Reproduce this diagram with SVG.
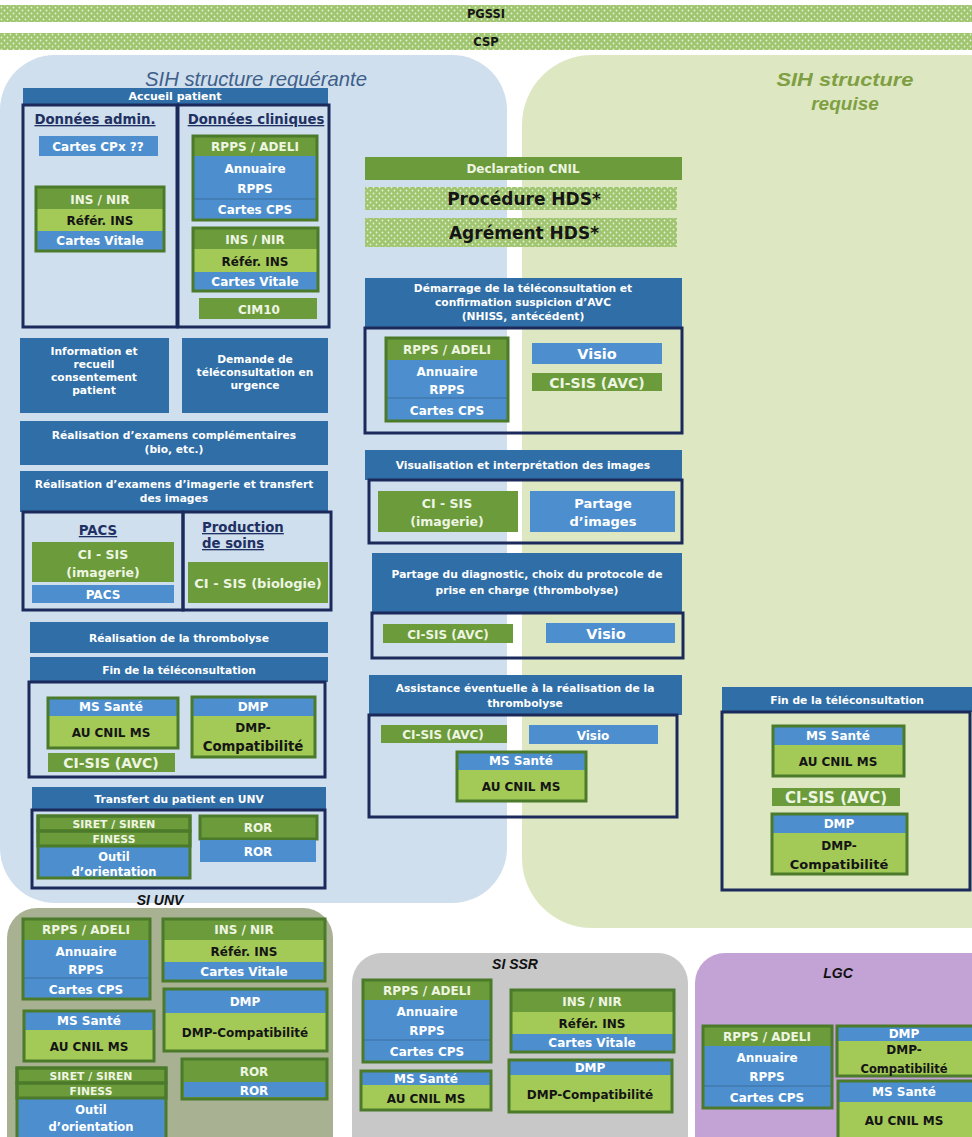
<svg xmlns="http://www.w3.org/2000/svg" width="972" height="1137" viewBox="0 0 972 1137">
<defs>
<pattern id="dots" width="6" height="6" patternUnits="userSpaceOnUse">
<rect width="6" height="6" fill="#9fc56e"/>
<circle cx="1.5" cy="1.5" r="0.9" fill="#e8f1da"/>
<circle cx="4.5" cy="4.5" r="0.9" fill="#e8f1da"/>
</pattern>
</defs>
<style>
text{font-family:"DejaVu Sans","Liberation Sans",sans-serif;font-weight:bold;text-anchor:middle}
.hdr{fill:#2f6ea6}
.lb{fill:#4d8fce}
.g{fill:#6b9b3b}
.lg{fill:#a3c957}
.grp{fill:none;stroke:#4b7a2b;stroke-width:3}
.nav{fill:none;stroke:#1b2a5a;stroke-width:3}
.sep{stroke:#3b6f9f;stroke-width:1}
.w{fill:#ffffff;font-size:12px}
.wg{fill:#eef5e2;font-size:12px}
.k{fill:#151515;font-size:12px}
.h{fill:#ffffff;font-size:10.7px}
.n{fill:#1f3062;font-size:13.3px;text-decoration:underline}
.ttl{font-family:"Liberation Sans",Arial,sans-serif;font-style:italic;font-weight:bold;fill:#111;font-size:14px}
</style>
<rect width="972" height="1137" fill="#ffffff"/>

<g id="bands">
<rect x="0" y="5" width="972" height="17" fill="url(#dots)"/>
<text x="486" y="18" class="k" style="font-size:11.5px">PGSSI</text>
<rect x="0" y="33" width="972" height="17" fill="url(#dots)"/>
<text x="486" y="46" class="k" style="font-size:11.5px">CSP</text>
</g>
<g id="region-requerante">
<rect x="0" y="55" width="507" height="848" rx="55" fill="#cfdfee"/>
<text x="256" y="86" style="font-family:'Liberation Sans',Arial,sans-serif;font-style:italic;font-weight:normal;font-size:21px;fill:#3f5f8a" textLength="222" lengthAdjust="spacingAndGlyphs">SIH structure  requérante</text>
</g>
<g id="region-requise">
<rect x="522" y="55" width="520" height="873" rx="70" fill="#dde8c3"/>
<text x="845" y="86" style="font-family:'Liberation Sans',Arial,sans-serif;font-style:italic;font-weight:bold;font-size:19px;fill:#7f9f42" textLength="137" lengthAdjust="spacingAndGlyphs">SIH structure</text>
<text x="845" y="110" style="font-family:'Liberation Sans',Arial,sans-serif;font-style:italic;font-weight:bold;font-size:19px;fill:#7f9f42">requise</text>
</g>
<g id="region-unv">
<rect x="7" y="908" width="326" height="260" rx="30" fill="#a9b193"/>
<text x="160" y="905" class="ttl">SI UNV</text>
</g>
<g id="region-ssr">
<rect x="352" y="953" width="336" height="220" rx="30" fill="#c8c8c8"/>
<text x="515" y="969" class="ttl">SI SSR</text>
</g>
<g id="region-lgc">
<rect x="695" y="953" width="320" height="220" rx="30" fill="#c3a3d5"/>
<text x="838" y="978" class="ttl">LGC</text>
</g>

<g id="connectors"></g>

<!-- LEFT COLUMN -->
<g id="accueil">
<rect x="23" y="88" width="305" height="16" class="hdr"/>
<text x="175" y="100" class="h" style="font-size:11px">Accueil patient</text>
</g>
<g id="donnees-admin">
<rect x="23" y="105" width="154" height="222" class="nav"/>
<text x="95" y="124" class="n">Données admin.</text>
<rect x="39" y="136" width="119" height="20" class="lb"/>
<text x="98" y="151" class="w">Cartes CPx ??</text>
<rect x="36" y="188" width="128" height="21" class="g"/>
<rect x="36" y="209" width="128" height="22" class="lg"/>
<rect x="36" y="231" width="128" height="19" class="lb"/>
<rect x="36" y="187" width="128" height="64" class="grp"/>
<text x="100" y="204" class="wg">INS / NIR</text>
<text x="100" y="225" class="k">Référ. INS</text>
<text x="100" y="245" class="w">Cartes Vitale</text>
</g>
<g id="donnees-cliniques">
<rect x="178" y="105" width="151" height="222" class="nav"/>
<text x="256" y="124" class="n">Données cliniques</text>
<rect x="193" y="136" width="124" height="20" class="g"/>
<rect x="193" y="156" width="124" height="43" class="lb"/>
<rect x="193" y="199" width="124" height="21" class="lb"/>
<line x1="193" y1="199" x2="317" y2="199" class="sep"/>
<rect x="193" y="136" width="124" height="84" class="grp"/>
<text x="255" y="151" class="wg">RPPS / ADELI</text>
<text x="255" y="173" class="w">Annuaire</text>
<text x="255" y="193" class="w">RPPS</text>
<text x="255" y="214" class="w">Cartes CPS</text>
<rect x="193" y="228" width="125" height="21" class="g"/>
<rect x="193" y="249" width="125" height="23" class="lg"/>
<rect x="193" y="272" width="125" height="19" class="lb"/>
<rect x="193" y="228" width="125" height="63" class="grp"/>
<text x="255" y="244" class="wg">INS / NIR</text>
<text x="255" y="266" class="k">Référ. INS</text>
<text x="255" y="286" class="w">Cartes Vitale</text>
<rect x="199" y="298" width="118" height="21" class="g"/>
<text x="259" y="314" class="wg">CIM10</text>
</g>
<g id="information">
<rect x="20" y="338" width="149" height="75" class="hdr"/>
<text x="94" y="355" class="h">Information et</text>
<text x="94" y="368" class="h">recueil</text>
<text x="94" y="381" class="h">consentement</text>
<text x="94" y="394" class="h">patient</text>
</g>
<g id="demande">
<rect x="182" y="338" width="146" height="75" class="hdr"/>
<text x="255" y="363" class="h">Demande de</text>
<text x="255" y="376" class="h">téléconsultation en</text>
<text x="255" y="389" class="h">urgence</text>
</g>
<g id="examens-comp">
<rect x="20" y="421" width="308" height="44" class="hdr"/>
<text x="174" y="439" class="h">Réalisation d’examens complémentaires</text>
<text x="174" y="453" class="h">(bio, etc.)</text>
</g>
<g id="examens-imagerie">
<rect x="20" y="471" width="308" height="41" class="hdr"/>
<text x="174" y="488" class="h">Réalisation d’examens d’imagerie et transfert</text>
<text x="174" y="502" class="h">des images</text>
</g>
<g id="pacs">
<rect x="23" y="512" width="160" height="98" class="nav"/>
<text x="98" y="535" class="n">PACS</text>
<rect x="32" y="542" width="142" height="40" class="g"/>
<text x="103" y="559" class="wg" style="font-size:12.5px">CI - SIS</text>
<text x="103" y="577" class="wg" style="font-size:12.5px">(imagerie)</text>
<rect x="32" y="585" width="142" height="18" class="lb"/>
<text x="103" y="599" class="w">PACS</text>
</g>
<g id="production-soins">
<rect x="183" y="512" width="148" height="98" class="nav"/>
<text x="202" y="532" class="n" style="text-anchor:start">Production</text>
<text x="202" y="548" class="n" style="text-anchor:start">de soins</text>
<rect x="188" y="562" width="140" height="41" class="g"/>
<text x="258" y="588" class="wg" style="font-size:13px">CI - SIS (biologie)</text>
</g>
<g id="thrombolyse">
<rect x="30" y="622" width="298" height="31" class="hdr"/>
<text x="179" y="642" class="h">Réalisation  de la thrombolyse</text>
</g>
<g id="fin-teleconsult-left">
<rect x="30" y="657" width="298" height="25" class="hdr"/>
<text x="179" y="674" class="h">Fin de la téléconsultation</text>
<rect x="29" y="682" width="296" height="95" class="nav"/>
<rect x="48" y="698" width="130" height="18" class="lb"/>
<rect x="48" y="716" width="130" height="32" class="lg"/>
<rect x="48" y="698" width="130" height="50" class="grp"/>
<text x="111" y="711" class="w">MS Santé</text>
<text x="111" y="737" class="k">AU CNIL MS</text>
<rect x="48" y="753" width="127" height="19" class="g"/>
<text x="111" y="768" class="wg" style="font-size:14px">CI-SIS (AVC)</text>
<rect x="192" y="697" width="123" height="19" class="lb"/>
<rect x="192" y="716" width="123" height="41" class="lg"/>
<rect x="192" y="697" width="123" height="60" class="grp"/>
<text x="253" y="711" class="w">DMP</text>
<text x="253" y="732" class="k">DMP-</text>
<text x="253" y="751" class="k" style="font-size:13.3px">Compatibilité</text>
</g>
<g id="transfert-unv">
<rect x="32" y="787" width="294" height="23" class="hdr"/>
<text x="179" y="803" class="h">Transfert du patient en UNV</text>
<rect x="32" y="810" width="293" height="78" class="nav"/>
<rect x="38" y="816" width="152" height="15" class="g"/>
<rect x="38" y="831" width="152" height="15" class="g"/>
<rect x="38" y="846" width="152" height="32" class="lb"/>
<rect x="38" y="816" width="152" height="15" class="grp"/>
<rect x="38" y="831" width="152" height="15" class="grp"/>
<rect x="38" y="816" width="152" height="62" class="grp"/>
<text x="114" y="828" class="wg" style="font-size:10.8px">SIRET / SIREN</text>
<text x="114" y="843" class="wg" style="font-size:10.8px">FINESS</text>
<text x="114" y="861" class="w" style="font-size:11.5px">Outil</text>
<text x="114" y="876" class="w" style="font-size:11.5px">d’orientation</text>
<rect x="200" y="816" width="117" height="23" class="g"/>
<rect x="200" y="816" width="117" height="23" class="grp"/>
<text x="258" y="832" class="wg">ROR</text>
<rect x="200" y="840" width="116" height="22" class="lb"/>
<text x="258" y="856" class="w">ROR</text>
</g>

<!-- MIDDLE COLUMN -->
<g id="declaration-cnil">
<rect x="365" y="157" width="317" height="23" class="g"/>
<text x="523" y="173" class="wg">Declaration CNIL</text>
</g>
<g id="procedure-hds">
<rect x="365" y="187" width="312" height="23" fill="url(#dots)"/>
<text x="524" y="205" class="k" style="font-size:17px">Procédure HDS*</text>
</g>
<g id="agrement-hds">
<rect x="365" y="218" width="312" height="29" fill="url(#dots)"/>
<text x="524" y="239" class="k" style="font-size:17px">Agrément HDS*</text>
</g>
<g id="demarrage">
<rect x="365" y="278" width="317" height="50" class="hdr"/>
<text x="523" y="292" class="h">Démarrage de la téléconsultation et</text>
<text x="523" y="306" class="h">confirmation suspicion d’AVC</text>
<text x="523" y="320" class="h">(NHISS, antécédent)</text>
<rect x="365" y="328" width="317" height="105" class="nav"/>
<rect x="386" y="338" width="122" height="22" class="g"/>
<rect x="386" y="360" width="122" height="38" class="lb"/>
<rect x="386" y="398" width="122" height="23" class="lb"/>
<line x1="386" y1="398" x2="508" y2="398" class="sep"/>
<rect x="386" y="338" width="122" height="83" class="grp"/>
<text x="447" y="354" class="wg">RPPS / ADELI</text>
<text x="447" y="376" class="w">Annuaire</text>
<text x="447" y="394" class="w">RPPS</text>
<text x="447" y="415" class="w">Cartes CPS</text>
<rect x="532" y="343" width="130" height="21" class="lb"/>
<text x="597" y="359" class="w" style="font-size:14.5px">Visio</text>
<rect x="532" y="373" width="130" height="18" class="g"/>
<text x="597" y="387.5" class="wg" style="font-size:14px">CI-SIS (AVC)</text>
</g>
<g id="visualisation">
<rect x="365" y="450" width="317" height="30" class="hdr"/>
<text x="523" y="469" class="h">Visualisation et interprétation des images</text>
<rect x="369" y="480" width="313" height="63" class="nav"/>
<rect x="378" y="491" width="140" height="41" class="g"/>
<text x="447" y="508" class="wg" style="font-size:12.5px">CI - SIS</text>
<text x="447" y="526" class="wg" style="font-size:12.5px">(imagerie)</text>
<rect x="530" y="491" width="145" height="41" class="lb"/>
<text x="603" y="508" class="w" style="font-size:13px">Partage</text>
<text x="603" y="526" class="w" style="font-size:13px">d’images</text>
</g>
<g id="partage-diagnostic">
<rect x="372" y="553" width="310" height="60" class="hdr"/>
<text x="527" y="578" class="h">Partage du diagnostic, choix du protocole de</text>
<text x="527" y="594" class="h">prise en charge (thrombolyse)</text>
<rect x="372" y="613" width="311" height="45" class="nav"/>
<rect x="383" y="624" width="130" height="19" class="g"/>
<text x="448" y="638.5" class="wg">CI-SIS (AVC)</text>
<rect x="546" y="623" width="129" height="20" class="lb"/>
<text x="606" y="638.5" class="w" style="font-size:14.5px">Visio</text>
</g>
<g id="assistance">
<rect x="369" y="675" width="313" height="40" class="hdr"/>
<text x="525" y="692" class="h">Assistance  éventuelle à la réalisation de la</text>
<text x="525" y="707" class="h">thrombolyse</text>
<rect x="369" y="715" width="308" height="102" class="nav"/>
<rect x="381" y="725" width="126" height="18" class="g"/>
<text x="443" y="739" class="wg">CI-SIS (AVC)</text>
<rect x="529" y="725" width="129" height="19" class="lb"/>
<text x="593" y="739.5" class="w">Visio</text>
<rect x="457" y="752" width="129" height="18" class="lb"/>
<rect x="457" y="770" width="129" height="31" class="lg"/>
<rect x="457" y="752" width="129" height="49" class="grp"/>
<text x="521" y="765" class="w">MS Santé</text>
<text x="521" y="791" class="k">AU CNIL MS</text>
</g>

<!-- RIGHT -->
<g id="fin-teleconsult-right">
<rect x="722" y="687" width="250" height="25" class="hdr"/>
<text x="847" y="704" class="h">Fin de la téléconsultation</text>
<rect x="722" y="712" width="248" height="178" class="nav"/>
<rect x="773" y="726" width="131" height="19" class="lb"/>
<rect x="773" y="745" width="131" height="31" class="lg"/>
<rect x="773" y="726" width="131" height="50" class="grp"/>
<text x="838" y="740" class="w">MS Santé</text>
<text x="838" y="766" class="k">AU CNIL MS</text>
<rect x="772" y="788" width="128" height="18" class="g"/>
<text x="836" y="802.5" class="wg" style="font-size:15px">CI-SIS (AVC)</text>
<rect x="772" y="814" width="135" height="19" class="lb"/>
<rect x="772" y="833" width="135" height="41" class="lg"/>
<rect x="772" y="814" width="135" height="60" class="grp"/>
<text x="839" y="828" class="w">DMP</text>
<text x="839" y="850" class="k">DMP-</text>
<text x="839" y="869" class="k" style="font-size:13px">Compatibilité</text>
</g>

<!-- SI UNV -->
<g id="unv-rpps">
<rect x="23" y="919" width="127" height="21" class="g"/>
<rect x="23" y="940" width="127" height="38" class="lb"/>
<rect x="23" y="978" width="127" height="21" class="lb"/>
<line x1="23" y1="978" x2="150" y2="978" class="sep"/>
<rect x="23" y="919" width="127" height="80" class="grp"/>
<text x="86" y="934" class="wg">RPPS / ADELI</text>
<text x="86" y="956" class="w">Annuaire</text>
<text x="86" y="974" class="w">RPPS</text>
<text x="86" y="994" class="w">Cartes CPS</text>
</g>
<g id="unv-ins">
<rect x="163" y="919" width="162" height="21" class="g"/>
<rect x="163" y="940" width="162" height="22" class="lg"/>
<rect x="163" y="962" width="162" height="19" class="lb"/>
<rect x="163" y="919" width="162" height="62" class="grp"/>
<text x="244" y="934" class="wg">INS / NIR</text>
<text x="244" y="956" class="k">Référ. INS</text>
<text x="244" y="976" class="w">Cartes Vitale</text>
</g>
<g id="unv-dmp">
<rect x="164" y="989" width="163" height="24" class="lb"/>
<rect x="164" y="1013" width="163" height="38" class="lg"/>
<rect x="164" y="989" width="163" height="62" class="grp"/>
<text x="245" y="1006" class="w">DMP</text>
<text x="245" y="1037" class="k" style="font-size:12px">DMP-Compatibilité</text>
</g>
<g id="unv-ms">
<rect x="24" y="1011" width="130" height="19" class="lb"/>
<rect x="24" y="1030" width="130" height="31" class="lg"/>
<rect x="24" y="1011" width="130" height="50" class="grp"/>
<text x="89" y="1025" class="w">MS Santé</text>
<text x="89" y="1051" class="k">AU CNIL MS</text>
</g>
<g id="unv-siret">
<rect x="17" y="1068" width="149" height="15" class="g"/>
<rect x="17" y="1083" width="149" height="15" class="g"/>
<rect x="17" y="1098" width="149" height="45" class="lb"/>
<rect x="17" y="1068" width="149" height="15" class="grp"/>
<rect x="17" y="1083" width="149" height="15" class="grp"/>
<rect x="17" y="1068" width="149" height="75" class="grp"/>
<text x="91" y="1080" class="wg" style="font-size:10.8px">SIRET / SIREN</text>
<text x="91" y="1095" class="wg" style="font-size:10.8px">FINESS</text>
<text x="91" y="1114" class="w" style="font-size:11.5px">Outil</text>
<text x="91" y="1131" class="w" style="font-size:11.5px">d’orientation</text>
</g>
<g id="unv-ror">
<rect x="182" y="1059" width="145" height="40" class="g"/>
<rect x="184" y="1082" width="142" height="15" class="lb"/>
<rect x="182" y="1059" width="145" height="40" class="grp"/>
<text x="254" y="1076" class="wg">ROR</text>
<text x="254" y="1095" class="w">ROR</text>
</g>

<!-- SI SSR -->
<g id="ssr-rpps">
<rect x="363" y="980" width="128" height="20" class="g"/>
<rect x="363" y="1000" width="128" height="40" class="lb"/>
<rect x="363" y="1040" width="128" height="22" class="lb"/>
<line x1="363" y1="1040" x2="491" y2="1040" class="sep"/>
<rect x="363" y="980" width="128" height="82" class="grp"/>
<text x="427" y="995" class="wg">RPPS / ADELI</text>
<text x="427" y="1016" class="w">Annuaire</text>
<text x="427" y="1035" class="w">RPPS</text>
<text x="427" y="1056" class="w">Cartes CPS</text>
</g>
<g id="ssr-ins">
<rect x="511" y="990" width="163" height="22" class="g"/>
<rect x="511" y="1012" width="163" height="22" class="lg"/>
<rect x="511" y="1034" width="163" height="18" class="lb"/>
<rect x="511" y="990" width="163" height="62" class="grp"/>
<text x="592" y="1006" class="wg">INS / NIR</text>
<text x="592" y="1028" class="k">Référ. INS</text>
<text x="592" y="1047" class="w">Cartes Vitale</text>
</g>
<g id="ssr-ms">
<rect x="361" y="1071" width="130" height="14" class="lb"/>
<rect x="361" y="1085" width="130" height="25" class="lg"/>
<rect x="361" y="1071" width="130" height="39" class="grp"/>
<text x="426" y="1083" class="w">MS Santé</text>
<text x="426" y="1103" class="k">AU CNIL MS</text>
</g>
<g id="ssr-dmp">
<rect x="509" y="1060" width="163" height="15" class="lb"/>
<rect x="509" y="1075" width="163" height="37" class="lg"/>
<rect x="509" y="1060" width="163" height="52" class="grp"/>
<text x="590" y="1072" class="w">DMP</text>
<text x="590" y="1099" class="k" style="font-size:12px">DMP-Compatibilité</text>
</g>

<!-- LGC -->
<g id="lgc-rpps">
<rect x="703" y="1026" width="129" height="20" class="g"/>
<rect x="703" y="1046" width="129" height="40" class="lb"/>
<rect x="703" y="1086" width="129" height="22" class="lb"/>
<line x1="703" y1="1086" x2="832" y2="1086" class="sep"/>
<rect x="703" y="1026" width="129" height="82" class="grp"/>
<text x="767" y="1041" class="wg">RPPS / ADELI</text>
<text x="767" y="1062" class="w">Annuaire</text>
<text x="767" y="1081" class="w">RPPS</text>
<text x="767" y="1102" class="w">Cartes CPS</text>
</g>
<g id="lgc-dmp">
<rect x="837" y="1026" width="140" height="15" class="lb"/>
<rect x="837" y="1041" width="140" height="35" class="lg"/>
<rect x="837" y="1026" width="140" height="50" class="grp"/>
<text x="904" y="1038" class="w">DMP</text>
<text x="904" y="1054" class="k">DMP-</text>
<text x="904" y="1073" class="k" style="font-size:11.5px">Compatibilité</text>
</g>
<g id="lgc-ms">
<rect x="838" y="1081" width="140" height="21" class="lb"/>
<rect x="838" y="1102" width="140" height="40" class="lg"/>
<rect x="838" y="1081" width="140" height="61" class="grp"/>
<text x="904" y="1096" class="w">MS Santé</text>
<text x="904" y="1125" class="k">AU CNIL MS</text>
</g>
</svg>
